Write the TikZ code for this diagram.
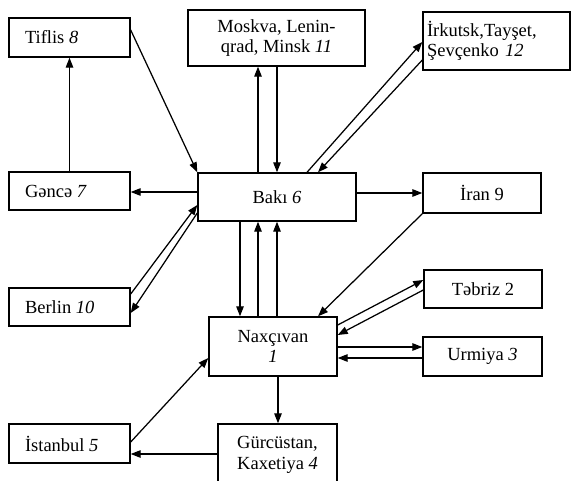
\documentclass[tikz,border=0pt]{standalone}
\usepackage{fontspec}
\setmainfont{Liberation Serif}
\usetikzlibrary{arrows.meta}
\newcommand{\lefttext}[1]{\makebox[89pt][l]{#1}}
\begin{document}
\begin{tikzpicture}[x=1pt,y=-1pt,
  box/.style={draw,line width=1.4pt,inner sep=0pt,align=center,font=\fontsize{18.5}{20.5}\selectfont},
  ln/.style={line width=1.25pt},
  con/.style={ln,-{Triangle[length=10pt,width=7.5pt]}}]
\useasboundingbox (0,0) rectangle (572,481);
\node[box,minimum width=121pt,minimum height=39pt] (tif) at (69.5,37.5) {\lefttext{Tiflis \textit{8}}};
\node[box,minimum width=177pt,minimum height=56pt] (mos) at (276.5,38) {Moskva, Lenin-\\qrad, Minsk \textit{11}};
\node[box,minimum width=147pt,minimum height=58pt,align=left,text width=139pt] (irk) at (496.5,41) {İrkutsk,Tayşet,\\Şevçenko \textit{12}};
\node[box,minimum width=121pt,minimum height=38pt] (gen) at (69.5,191) {\lefttext{Gəncə \textit{7}}};
\node[box,minimum width=158pt,minimum height=48pt] (bak) at (277,197) {Bakı \textit{6}};
\node[box,minimum width=118pt,minimum height=40pt] (ira) at (482,193) {İran 9};
\node[box,minimum width=121pt,minimum height=38pt] (ber) at (69.5,307) {\lefttext{Berlin \textit{10}}};
\node[box,minimum width=118pt,minimum height=38pt] (teb) at (483,289) {Təbriz 2};
\node[box,minimum width=128pt,minimum height=59pt] (nax) at (273,346.5) {Naxçıvan\\\textit{1}};
\node[box,minimum width=119pt,minimum height=39pt] (urm) at (482.5,356.5) {Urmiya \textit{3}};
\node[box,minimum width=121pt,minimum height=39pt] (ist) at (69.5,443.5) {\lefttext{İstanbul \textit{5}}};
\node[box,minimum width=119pt,minimum height=62pt] (gur) at (277.5,455) {Gürcüstan,\\Kaxetiya \textit{4}};
% connectors
\draw[con] (gen.north) -- (tif.south);
\draw[con] (tif.east |- 0,30) -- (bak.north west);
\draw[con] (bak.west |- 0,192) -- (gen.east |- 0,192);
\draw[con] (ber.east |- 0,294) -- (bak.west |- 0,205);
\draw[con] (bak.west |- 0,213) -- (ber.east |- 0,313);
\draw[con] (258,0 |- bak.north) -- (258,0 |- mos.south);
\draw[con] (277,0 |- mos.south) -- (277,0 |- bak.north);
\draw[con] (307,0 |- bak.north) -- (irk.west |- 0,42);
\draw[con] (irk.west |- 0,60) -- (318,0 |- bak.north);
\draw[con] (bak.east |- 0,193) -- (ira.west |- 0,193);
\draw[con] (ira.south west) -- (318,0 |- nax.north);
\draw[con] (240,0 |- bak.south) -- (240,0 |- nax.north);
\draw[con] (258,0 |- nax.north) -- (258,0 |- bak.south);
\draw[con] (277,0 |- nax.north) -- (277,0 |- bak.south);
\draw[con] (nax.east |- 0,325) -- (teb.west |- 0,280);
\draw[con] (teb.west |- 0,290) -- (nax.east |- 0,335);
\draw[con] (nax.east |- 0,347) -- (urm.west |- 0,347);
\draw[con] (urm.west |- 0,358) -- (nax.east |- 0,358);
\draw[con] (278,0 |- nax.south) -- (278,0 |- gur.north);
\draw[con] (gur.west |- 0,454) -- (ist.east |- 0,454);
\draw[con] (ist.east |- 0,442) -- (nax.west |- 0,358);
\end{tikzpicture}
\end{document}
